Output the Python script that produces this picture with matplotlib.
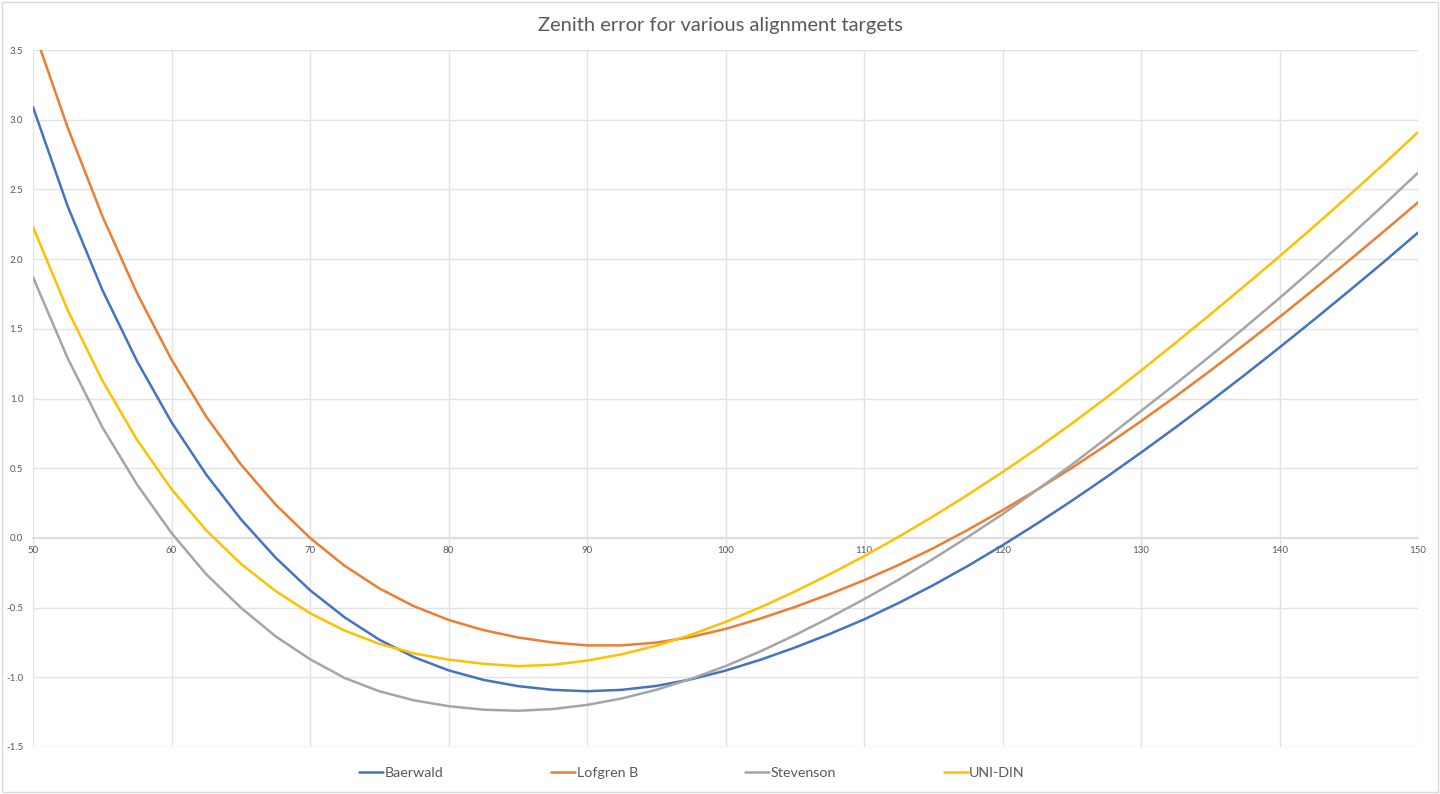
import matplotlib
matplotlib.use("Agg")
import matplotlib.pyplot as plt
from matplotlib.patches import Rectangle

plt.rcParams['font.family'] = ['Lato', 'DejaVu Sans']
plt.rcParams['axes.unicode_minus'] = False

x_vals = [50, 52.5, 55, 57.5, 60, 62.5, 65, 67.5, 70, 72.5, 75, 77.5, 80, 82.5, 85, 87.5,
          90, 92.5, 95, 97.5, 100, 102.5, 105, 107.5, 110, 112.5, 115, 117.5, 120, 122.5,
          125, 127.5, 130, 132.5, 135, 137.5, 140, 142.5, 145, 147.5, 150]

baerwald = [3.09, 2.38, 1.78, 1.27, 0.83, 0.455, 0.135, -0.14, -0.375, -0.57, -0.73, -0.855,
            -0.95, -1.018, -1.063, -1.09, -1.10, -1.09, -1.062, -1.015, -0.952, -0.875, -0.787,
            -0.69, -0.585, -0.467, -0.339, -0.201, -0.053, 0.103, 0.266, 0.436, 0.612, 0.793,
            0.979, 1.17, 1.366, 1.566, 1.77, 1.977, 2.19]

lofgren_b = [3.66, 2.945, 2.31, 1.757, 1.279, 0.871, 0.528, 0.241, 0.0, -0.2, -0.362, -0.49,
             -0.588, -0.661, -0.714, -0.75, -0.771, -0.771, -0.751, -0.711, -0.653, -0.579,
             -0.496, -0.404, -0.304, -0.194, -0.074, 0.058, 0.198, 0.346, 0.502, 0.666, 0.837,
             1.015, 1.199, 1.389, 1.584, 1.784, 1.988, 2.196, 2.407]

stevenson = [1.87, 1.29, 0.795, 0.385, 0.035, -0.26, -0.50, -0.705, -0.87, -1.005, -1.10,
             -1.165, -1.207, -1.232, -1.24, -1.228, -1.198, -1.152, -1.09, -1.012, -0.92,
             -0.815, -0.698, -0.573, -0.44, -0.30, -0.15, 0.007, 0.17, 0.345, 0.525, 0.715,
             0.91, 1.105, 1.305, 1.51, 1.72, 1.936, 2.158, 2.386, 2.62]

uni_din = [2.23, 1.635, 1.13, 0.705, 0.35, 0.055, -0.185, -0.38, -0.54, -0.665, -0.76, -0.828,
           -0.873, -0.903, -0.92, -0.91, -0.88, -0.835, -0.773, -0.695, -0.603, -0.499, -0.385,
           -0.262, -0.131, 0.008, 0.155, 0.31, 0.472, 0.642, 0.82, 1.006, 1.20, 1.40, 1.603,
           1.81, 2.02, 2.235, 2.455, 2.68, 2.91]

series_names = ["Baerwald", "Lofgren B", "Stevenson", "UNI-DIN"]
series_values = [baerwald, lofgren_b, stevenson, uni_din]
colors = ["#4472C4", "#ED7D31", "#A5A5A5", "#FFC000"]

x_ticks = list(range(50, 151, 10))
y_ticks = [-1.5, -1.0, -0.5, 0.0, 0.5, 1.0, 1.5, 2.0, 2.5, 3.0, 3.5]

fig = plt.figure(figsize=(14.4, 7.94), dpi=100)
fig.patch.set_facecolor("white")
fig.add_artist(Rectangle((0.0015, 0.002), 0.997, 0.996, transform=fig.transFigure,
                         facecolor="none", edgecolor="#D9D9D9", linewidth=1.0))

ax = fig.add_axes([33 / 1440, 1 - 747 / 794, (1418 - 33) / 1440, (747 - 50) / 794])

for name, vals, c in zip(series_names, series_values, colors):
    ax.plot(x_vals, vals, color=c, linewidth=1.8, label=name,
            solid_capstyle="round", solid_joinstyle="round")

ax.set_xlim(50, 150)
ax.set_ylim(-1.5, 3.5)
ax.set_xticks(x_ticks)
ax.set_yticks(y_ticks)
ax.set_yticklabels([f"{v:.1f}" for v in y_ticks])
ax.set_xticklabels([str(v) for v in x_ticks])

ax.grid(True, color="#E3E3E3", linewidth=1.0)
ax.set_axisbelow(True)
for s in ["top", "right", "left"]:
    ax.spines[s].set_visible(False)
ax.spines["bottom"].set_position(("data", 0))
ax.spines["bottom"].set_color("#D9D9D9")
ax.spines["bottom"].set_linewidth(1.5)
ax.spines["bottom"].set_zorder(0.5)

ax.tick_params(axis="both", length=0, labelsize=7, labelcolor="#595959")
ax.tick_params(axis="x", pad=6)
ax.tick_params(axis="y", pad=7)

fig.text(0.5, 1 - 25 / 794, "Zenith error for various alignment targets",
         ha="center", va="center", fontsize=14.5, color="#595959")

leg = fig.legend(loc="center", bbox_to_anchor=(692 / 1440, 1 - 773 / 794), ncol=4,
                 frameon=False, fontsize=10.3, handlelength=1.7, handletextpad=0.1,
                 columnspacing=7.5, labelcolor="#595959")
for line in leg.get_lines():
    line.set_linewidth(1.8)

fig.savefig("out.png", dpi=100, facecolor="white")
